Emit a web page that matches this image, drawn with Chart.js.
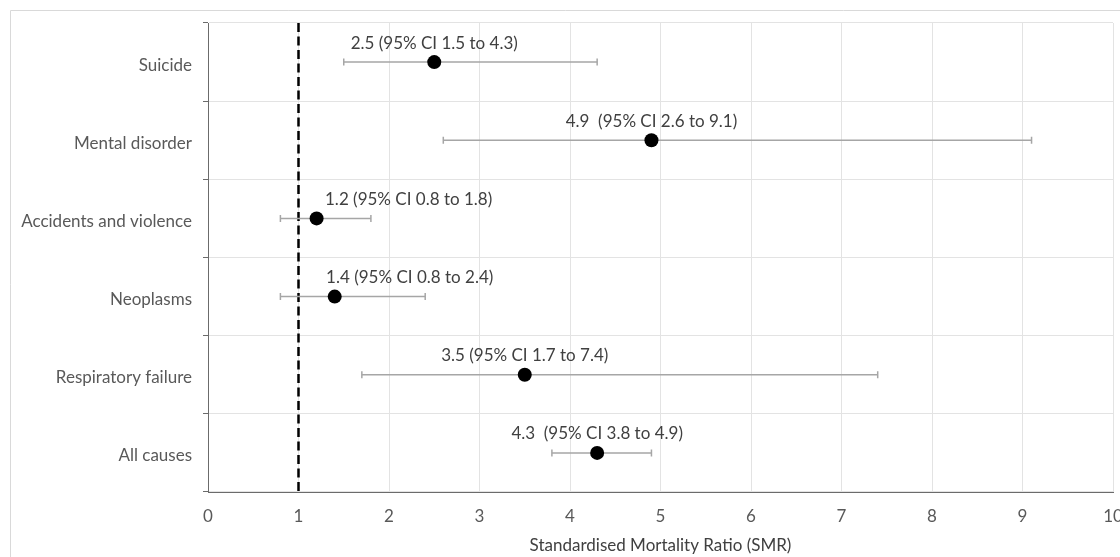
<!DOCTYPE html>
<html>
<head>
<meta charset="utf-8">
<script src="https://cdn.jsdelivr.net/npm/chart.js@4.4.1/dist/chart.umd.min.js"></script>
<style>
  html, body { margin: 0; padding: 0; background: #ffffff; overflow: hidden; }
  #wrap { position: relative; width: 1120px; height: 557px; }
</style>
</head>
<body>
<div id="wrap"><canvas id="chart" width="1120" height="557"></canvas></div>
<script>
// Causes of death, top to bottom
const causes = ['Suicide', 'Mental disorder', 'Accidents and violence', 'Neoplasms', 'Respiratory failure', 'All causes'];
// Standardised mortality ratio and 95% confidence interval bounds
const smr     = [2.5, 4.9, 1.2, 1.4, 3.5, 4.3];
const ciLower = [1.5, 2.6, 0.8, 0.8, 1.7, 3.8];
const ciUpper = [4.3, 9.1, 1.8, 2.4, 7.4, 4.9];
// spacing between the estimate and the bracketed interval in each label
const labelGap = [' ', '  ', ' ', ' ', ' ', '  '];
// x axis ticks
const xTicks = [0, 1, 2, 3, 4, 5, 6, 7, 8, 9, 10];
const referenceLine = 1;

const FONT = 'Lato, "Open Sans", sans-serif';
const labelText = causes.map((c, i) =>
  `${smr[i].toFixed(1)}${labelGap[i]}(95% CI ${ciLower[i].toFixed(1)} to ${ciUpper[i].toFixed(1)})`);

const pointData = causes.map((c, i) => ({ x: smr[i], y: c }));
const ciDatasets = causes.map((c, i) => ({
  label: 'CI ' + c,
  data: [{ x: ciLower[i], y: c }, { x: ciUpper[i], y: c }],
  showLine: true,
  borderColor: '#a6a6a6',
  borderWidth: 1.5,
  pointStyle: 'line',
  rotation: 90,
  pointRadius: 3.5,
  pointBorderColor: '#a6a6a6',
  pointBorderWidth: 1.5,
  order: 2
}));

// light outer frame of the chart
const framePlugin = {
  id: 'frame',
  beforeDraw(chart) {
    const ctx = chart.ctx;
    ctx.save();
    ctx.strokeStyle = '#d9d9d9';
    ctx.lineWidth = 1;
    ctx.beginPath();
    ctx.moveTo(10.5, chart.height + 5);
    ctx.lineTo(10.5, 10.5);
    ctx.lineTo(chart.width + 5, 10.5);
    ctx.stroke();
    ctx.restore();
  }
};

// dashed vertical reference line at SMR = 1
const refLinePlugin = {
  id: 'refLine',
  beforeDatasetsDraw(chart) {
    const { ctx, chartArea, scales } = chart;
    const x = scales.x.getPixelForValue(referenceLine);
    ctx.save();
    ctx.strokeStyle = '#000000';
    ctx.lineWidth = 2.5;
    ctx.setLineDash([9, 4.5]);
    ctx.beginPath();
    ctx.moveTo(x, chartArea.top);
    ctx.lineTo(x, chartArea.bottom);
    ctx.stroke();
    ctx.restore();
  }
};

// value labels above each estimate; labels next to the reference line are nudged right
const valueLabelPlugin = {
  id: 'valueLabels',
  afterDatasetsDraw(chart, args, opts) {
    const ctx = chart.ctx;
    const meta = chart.getDatasetMeta(0);
    ctx.save();
    ctx.font = '17px ' + FONT;
    ctx.fillStyle = '#404040';
    ctx.textAlign = 'center';
    ctx.textBaseline = 'middle';
    meta.data.forEach((pt, i) => {
      const dx = (opts.shift && opts.shift[i]) || 0;
      ctx.fillText(labelText[i], pt.x + dx, pt.y - 19);
    });
    ctx.restore();
  }
};

new Chart(document.getElementById('chart'), {
  type: 'line',
  data: {
    datasets: [
      {
        label: 'SMR',
        data: pointData,
        showLine: false,
        pointStyle: 'circle',
        pointRadius: 7,
        pointBackgroundColor: '#000000',
        pointBorderColor: '#000000',
        pointBorderWidth: 0,
        order: 1
      },
      ...ciDatasets
    ]
  },
  options: {
    responsive: false,
    animation: false,
    events: [],
    layout: { padding: { top: 23, right: 5, bottom: 0, left: 0 } },
    plugins: {
      legend: { display: false },
      tooltip: { enabled: false },
      valueLabels: { shift: [0, 0, 92, 75, 0, 0] }
    },
    scales: {
      x: {
        type: 'linear',
        min: xTicks[0],
        max: xTicks[xTicks.length - 1],
        afterBuildTicks(scale) { scale.ticks = xTicks.map(v => ({ value: v })); },
        afterFit(scale) { scale.height = 65; scale.paddingLeft = 0; scale.paddingRight = 0; },
        grid: { color: '#e3e3e3', lineWidth: 1, drawTicks: false },
        border: { display: true, color: '#6b6b6b', width: 1 },
        ticks: { color: '#595959', font: { family: FONT, size: 17 }, padding: 14, maxRotation: 0 },
        title: {
          display: true,
          text: 'Standardised Mortality Ratio (SMR)',
          color: '#404040',
          font: { family: FONT, size: 17 },
          padding: { top: 0, bottom: 1 }
        }
      },
      y: {
        type: 'category',
        labels: causes,
        offset: true,
        afterFit(scale) { scale.width = 208; scale.paddingTop = 0; scale.paddingBottom = 0; },
        grid: { offset: true, color: '#e3e3e3', lineWidth: 1, drawTicks: true, tickLength: 5, tickColor: '#6b6b6b' },
        border: { display: true, color: '#6b6b6b', width: 1 },
        ticks: { color: '#595959', font: { family: FONT, size: 17 }, padding: 11, labelOffset: 3 }
      }
    }
  },
  plugins: [framePlugin, refLinePlugin, valueLabelPlugin]
});
</script>
</body>
</html>
